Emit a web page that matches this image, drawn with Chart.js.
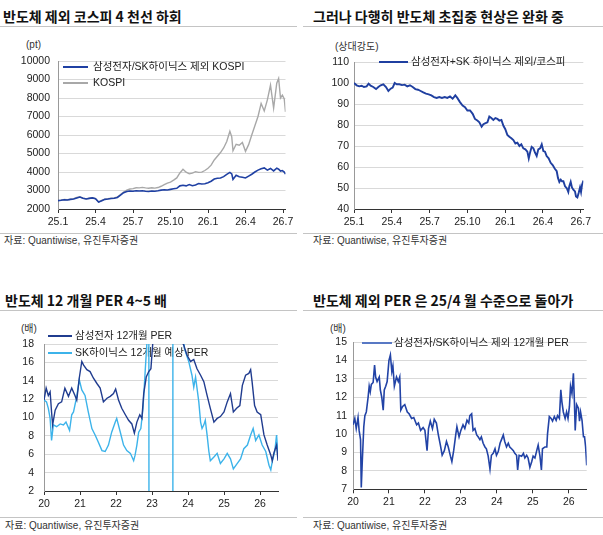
<!DOCTYPE html>
<html>
<head>
<meta charset="utf-8">
<script src="https://cdn.jsdelivr.net/npm/chart.js@4.4.1/dist/chart.umd.min.js"></script>
<style>
body { margin: 0; width: 603px; height: 535px; position: relative; background: #fff; overflow: hidden;
  font-family: "Liberation Sans", "Noto Sans CJK KR", sans-serif; color: #222; }
.title { position: absolute; font-family: "Noto Sans CJK KR", sans-serif; font-weight: bold; font-size: 14px;
  line-height: 20px; color: #111; white-space: nowrap; }
.note { position: absolute; font-size: 10px; line-height: 14px; color: #333; white-space: nowrap; }
.rule { position: absolute; height: 1px; background: #c4c4c4; }
canvas { position: absolute; }
</style>
</head>
<body>

<div class="title" style="left:3px;top:6px">반도체 제외 코스피 4 천선 하회</div>
<div class="title" style="left:313px;top:6px">그러나 다행히 반도체 초집중 현상은 완화 중</div>
<div class="title" style="left:5px;top:290px">반도체 12 개월 PER 4~5 배</div>
<div class="title" style="left:313px;top:290px">반도체 제외 PER 은 25/4 월 수준으로 돌아가</div>

<div class="rule" style="left:0;top:26px;width:297px"></div>
<div class="rule" style="left:303px;top:26px;width:300px"></div>
<div class="rule" style="left:0;top:233px;width:297px"></div>
<div class="rule" style="left:303px;top:233px;width:300px"></div>
<div class="rule" style="left:0;top:310px;width:297px"></div>
<div class="rule" style="left:303px;top:310px;width:300px"></div>
<div class="rule" style="left:0;top:517px;width:297px"></div>
<div class="rule" style="left:303px;top:517px;width:300px"></div>

<div class="note" style="left:26px;top:38px">(pt)</div>
<div class="note" style="left:335px;top:40px">(상대강도)</div>
<div class="note" style="left:21px;top:322px">(배)</div>
<div class="note" style="left:330px;top:322px">(배)</div>

<div class="note" style="left:4px;top:234px">자료: Quantiwise, 유진투자증권</div>
<div class="note" style="left:313px;top:234px">자료: Quantiwise, 유진투자증권</div>
<div class="note" style="left:5px;top:519px">자료: Quantiwise, 유진투자증권</div>
<div class="note" style="left:313px;top:519px">자료: Quantiwise, 유진투자증권</div>

<canvas id="kospiChart" width="300" height="200" style="left:0;top:30px"></canvas>
<canvas id="ratioChart" width="303" height="200" style="left:300px;top:30px"></canvas>
<canvas id="semiPerChart" width="300" height="200" style="left:0;top:315px"></canvas>
<canvas id="exPerChart" width="303" height="200" style="left:300px;top:315px"></canvas>

<script>
// tick labels
const monthTicks = ['25.1', '25.4', '25.7', '25.10', '26.1', '26.4', '26.7'];
const yearTicks = ['20', '21', '22', '23', '24', '25', '26'];

// KOSPI vs KOSPI ex Samsung/SK Hynix (months since 25.1)
const kospiMonths = [0, 0.25, 0.5, 0.75, 1, 1.25, 1.5, 1.75, 2, 2.25, 2.5, 2.75, 3, 3.25, 3.5, 3.75, 4, 4.25, 4.5, 4.75,
  5, 5.25, 5.5, 5.75, 6, 6.25, 6.5, 6.75, 7, 7.25, 7.5, 7.75, 8, 8.25, 8.5, 8.75, 9, 9.25, 9.5, 9.75,
  10, 10.25, 10.5, 10.75, 11, 11.25, 11.5, 11.75, 12, 12.25, 12.5, 12.75, 13, 13.25, 13.5, 13.75, 13.9,
  14, 14.25, 14.5, 14.75, 15, 15.25, 15.5, 15.75, 16, 16.25, 16.5, 16.75, 17, 17.25, 17.5,
  17.65, 17.8, 17.95, 18.1, 18.2];
const kospiExSemi = [2450, 2470, 2500, 2485, 2520, 2545, 2600, 2650, 2580, 2540, 2575, 2600, 2555, 2380, 2450, 2520, 2540, 2565, 2580, 2625,
  2750, 2880, 2950, 2975, 2960, 2990, 2970, 2985, 2960, 2950, 2975, 2960, 2985, 3020, 3040, 3030, 3060, 3090, 3120, 3250,
  3280, 3250, 3320, 3260, 3300, 3380, 3350, 3365, 3420, 3500, 3620, 3660, 3680, 3750, 3870, 3980, 3900,
  3600, 3820, 3740, 3720, 3680, 3780, 3880, 4000, 4100, 4180, 4220, 4100, 4190, 4060, 4210,
  4150, 4050, 4080, 4000, 3880];
const kospiAll = [2450, 2480, 2510, 2500, 2530, 2560, 2620, 2660, 2590, 2550, 2580, 2610, 2560, 2370, 2460, 2530, 2560, 2580, 2600, 2650,
  2780, 2920, 3020, 3080, 3100, 3150, 3140, 3170, 3140, 3120, 3150, 3130, 3160, 3230, 3320, 3400, 3450, 3560, 3680, 3950,
  4150, 3990, 3900, 3940, 4020, 3980, 3990, 4080, 4200, 4370, 4650, 4850, 5050, 5300, 5650, 6200, 5900,
  5150, 5500, 5450, 5600, 5120, 5480, 6000, 6500, 7000, 7700, 7300, 7900, 8700, 7450, 8800,
  9060, 8000, 8150, 7950, 7250];

// relative strength: ex Samsung+SK / KOSPI
const ratioMonths = [0, 0.21, 0.42, 0.61, 0.79, 1.0, 1.16, 1.32, 1.53, 1.75, 1.93, 2.12, 2.33, 2.54, 2.73, 2.91,
  3.07, 3.23, 3.39, 3.60, 3.81, 4.02, 4.23, 4.44, 4.66, 4.87, 5.08, 5.29, 5.50, 5.71, 5.93,
  6.14, 6.35, 6.56, 6.77, 6.98, 7.20, 7.41, 7.62, 7.83, 8.04, 8.20, 8.41, 8.62, 8.81, 9.0,
  9.21, 9.42, 9.60, 9.79, 9.95, 10.13, 10.27, 10.40, 10.59, 10.74, 10.90, 11.06, 11.22, 11.38, 11.54, 11.70,
  11.86, 12.01, 12.17, 12.33, 12.49, 12.65, 12.81, 12.97, 13.13, 13.28, 13.44, 13.60, 13.76, 13.87, 13.97,
  14.10, 14.24, 14.37, 14.50, 14.63, 14.77, 14.90, 15.03, 15.16, 15.29, 15.45, 15.61, 15.77, 15.93,
  16.09, 16.19, 16.30, 16.41, 16.51, 16.62, 16.75, 16.88, 17.01, 17.09, 17.20, 17.30, 17.41, 17.54,
  17.62, 17.73, 17.83, 17.94, 18.02, 18.10, 18.21];
const ratioValues = [100.0, 98.9, 98.4, 98.7, 98.1, 98.4, 99.7, 98.7, 98.1, 97.1, 98.1, 98.9, 99.4, 98.1, 96.2, 97.3,
  97.8, 100.0, 99.4, 99.4, 99.0, 99.2, 98.4, 98.9, 98.1, 97.1, 96.8, 96.2, 95.5, 94.9, 94.6,
  94.1, 93.3, 92.9, 93.3, 92.9, 93.3, 92.9, 93.6, 92.5, 94.1, 92.9, 90.9, 89.3, 88.5, 86.9,
  86.9, 85.3, 82.9, 82.1, 81.3, 79.2, 80.4, 80.8, 81.3, 84.0, 83.3, 82.4, 83.3, 82.9, 82.1, 82.4,
  79.6, 78.0, 75.3, 74.4, 73.7, 72.8, 71.2, 71.6, 70.0, 70.8, 68.9, 68.4, 67.3, 64.1, 66.8,
  69.6, 68.9, 66.8, 65.2, 68.4, 68.9, 70.8, 67.6, 67.3, 65.2, 64.1, 62.0, 60.9, 59.3,
  58.0, 54.8, 52.9, 54.0, 53.2, 53.2, 50.8, 50.0, 48.1, 50.8, 52.9, 50.3, 49.2, 48.4,
  46.0, 45.5, 47.6, 50.3, 48.1, 51.6, 53.5];

// 12M forward PER, Samsung / SK Hynix (year as 20.xx)
const samsungYears = [20.00, 20.06, 20.12, 20.17, 20.21, 20.24, 20.31, 20.40, 20.49, 20.58, 20.68, 20.77, 20.86, 20.91,
  20.98, 21.05, 21.10, 21.19, 21.28, 21.37, 21.47, 21.56, 21.65, 21.75, 21.84, 21.93, 21.99,
  22.07, 22.16, 22.26, 22.35, 22.44, 22.51, 22.58, 22.66, 22.72, 22.77, 22.84, 22.91, 22.97,
  23.01, 23.05, 23.2, 23.4, 23.6, 23.79, 23.88, 23.97,
  24.07, 24.16, 24.25, 24.35, 24.44, 24.53, 24.62, 24.72, 24.81, 24.90,
  25.00, 25.09, 25.18, 25.26, 25.35, 25.44, 25.51, 25.60, 25.69, 25.74, 25.78, 25.85, 25.92,
  26.02, 26.11, 26.20, 26.30, 26.34, 26.39, 26.46, 26.50];
const samsungPer = [11.9, 13.2, 12.4, 12.8, 10.6, 9.2, 10.8, 11.5, 11.7, 13.2, 12.3, 13.2, 12.4, 11.9,
  14.3, 16.1, 15.7, 15.2, 15.0, 14.3, 13.7, 13.2, 11.7, 12.1, 12.3, 12.6, 13.1,
  11.9, 11.0, 10.3, 9.7, 9.3, 8.3, 9.5, 10.3, 9.9, 12.6, 14.4, 15.0, 15.3,
  17.5, 19.5, 26, 34, 28, 18.5, 17.9, 16.8,
  16.1, 16.3, 15.3, 14.6, 13.9, 12.4, 11.0, 9.5, 9.9, 10.1,
  10.6, 11.7, 12.6, 10.6, 11.0, 11.3, 13.5, 14.6, 14.8, 15.2, 13.9, 11.3, 10.6,
  10.3, 8.1, 7.0, 5.9, 5.3, 6.2, 7.0, 5.3];
const hynixYears = [20.00, 20.07, 20.12, 20.17, 20.21, 20.26, 20.35, 20.45, 20.54, 20.61,
  20.71, 20.77, 20.82, 20.91, 20.98, 21.05, 21.14, 21.23, 21.33, 21.42,
  21.51, 21.61, 21.70, 21.79, 21.88, 21.98, 22.02, 22.12, 22.21, 22.30,
  22.40, 22.49, 22.53, 22.58, 22.63, 22.69, 22.75, 22.81, 22.88, 22.91,
  22.92, 23.2, 23.57, 23.58, 23.75, 23.9, 24.02, 24.11, 24.16, 24.21,
  24.25, 24.30, 24.35, 24.39, 24.44, 24.48, 24.53, 24.58, 24.62, 24.72,
  24.81, 24.90, 25.00, 25.09, 25.18, 25.26, 25.37, 25.46, 25.55, 25.65,
  25.74, 25.81, 25.88, 25.97, 26.06, 26.16, 26.25, 26.30, 26.34, 26.41,
  26.46, 26.50];
const hynixPer = [11.9, 11.7, 11.0, 9.9, 7.5, 9.2, 9.0, 9.3, 9.2, 9.5,
  8.6, 10.3, 10.6, 12.3, 14.1, 13.0, 12.4, 10.6, 8.8, 8.1,
  7.3, 6.4, 6.3, 7.0, 8.4, 9.5, 9.9, 8.4, 7.0, 6.4,
  6.1, 5.3, 5.9, 7.0, 8.4, 8.8, 11.0, 15.0, 19.5, 30,
  -20, -40, -15, 40, 25, 17.5, 16.1, 14.6, 13.3, 14.4,
  13.2, 11.7, 9.5, 8.8, 9.2, 9.7, 8.1, 6.3, 5.3, 5.7,
  6.1, 5.0, 5.5, 6.1, 5.5, 4.4, 5.0, 5.5, 6.6, 7.0,
  8.1, 8.8, 7.5, 8.1, 7.0, 6.3, 4.8, 4.3, 5.2, 6.3,
  8.1, 5.9];

// 12M PER ex Samsung/SK Hynix
const exPerYears = [20.00, 20.05, 20.09, 20.14, 20.17, 20.21, 20.23, 20.26, 20.30, 20.33,
  20.37, 20.42, 20.45, 20.48, 20.51, 20.56, 20.60, 20.63, 20.67, 20.73,
  20.76, 20.80, 20.84, 20.87, 20.91, 20.95, 21.00, 21.04, 21.08, 21.11,
  21.15, 21.21, 21.26, 21.30, 21.33, 21.38, 21.44, 21.51, 21.56, 21.63,
  21.69, 21.77, 21.82, 21.88, 21.95, 22.00, 22.06, 22.10, 22.15, 22.21,
  22.26, 22.32, 22.37, 22.43, 22.48, 22.54, 22.60, 22.65, 22.71, 22.75,
  22.80, 22.86, 22.89, 22.95, 23.00, 23.06, 23.11, 23.17, 23.22, 23.25,
  23.30, 23.34, 23.39, 23.44, 23.48, 23.53, 23.57, 23.62, 23.67, 23.71,
  23.76, 23.81, 23.85, 23.90, 23.95, 23.99, 24.04, 24.09, 24.13, 24.18,
  24.22, 24.27, 24.32, 24.36, 24.41, 24.46, 24.50, 24.55, 24.58, 24.62,
  24.69, 24.74, 24.78, 24.83, 24.87, 24.92, 24.97, 25.01, 25.06, 25.11,
  25.15, 25.20, 25.24, 25.27, 25.34, 25.39, 25.41, 25.46, 25.51, 25.55,
  25.60, 25.65, 25.69, 25.74, 25.78, 25.81, 25.85, 25.90, 25.94, 25.98,
  26.02, 26.05, 26.09, 26.13, 26.16, 26.18, 26.22, 26.27, 26.30, 26.33,
  26.37, 26.41, 26.44, 26.47, 26.50];
const exPerValues = [10.5, 10.85, 10.3, 10.9, 10.2, 9.7, 7.1, 8.6, 10.4, 11.0,
  11.2, 12.0, 12.6, 12.3, 12.7, 12.8, 13.75, 13.1, 12.85, 13.1,
  12.4, 12.0, 11.3, 12.4, 12.6, 12.85, 14.0, 14.3, 13.4, 13.7,
  12.6, 13.1, 12.85, 13.1, 11.3, 11.5, 11.6, 11.2, 11.1, 10.85,
  10.9, 10.5, 10.6, 10.2, 10.35, 10.2, 9.1, 10.3, 10.7, 10.3,
  10.8, 10.6, 10.0, 9.4, 8.85, 9.1, 9.6, 9.3, 8.8, 8.5,
  9.1, 10.0, 10.4, 9.85, 10.2, 10.5, 10.3, 10.75, 10.6, 11.0,
  11.1, 10.2, 10.3, 9.95, 9.85, 9.7, 9.85, 9.5, 9.3, 9.2,
  8.8, 8.1, 8.85, 8.95, 9.2, 8.85, 9.05, 9.5, 9.7, 9.95,
  9.6, 9.3, 9.5, 9.3, 9.2, 9.1, 8.95, 8.85, 8.05, 8.85,
  8.8, 8.95, 8.7, 8.85, 8.7, 8.2, 8.5, 8.8, 8.7, 9.1,
  9.4, 8.8, 8.05, 9.2, 9.3, 9.3, 10.0, 10.95, 10.85, 10.7,
  10.95, 10.75, 11.0, 10.85, 12.4, 11.75, 11.2, 10.85, 11.2, 10.85,
  11.5, 12.6, 12.2, 13.3, 11.65, 10.2, 11.6, 11.4, 10.7, 11.2,
  10.75, 9.85, 9.85, 9.3, 8.3];

Chart.defaults.font.family = '"Liberation Sans", "Noto Sans CJK KR", sans-serif';
Chart.defaults.color = '#333';

// legend drawn inside the plot, under the lines
const inlineLegend = {
  id: 'inlineLegend',
  beforeDatasetsDraw(chart, args, opts) {
    const ctx = chart.ctx;
    ctx.save();
    ctx.font = '10.5px "Liberation Sans", "Noto Sans CJK KR", sans-serif';
    ctx.textBaseline = 'middle';
    chart.data.datasets.forEach((ds, i) => {
      const y = opts.y + i * (opts.rowH || 16);
      ctx.strokeStyle = opts.color || ds.borderColor;
      ctx.lineWidth = 2;
      ctx.beginPath();
      ctx.moveTo(opts.x, y);
      ctx.lineTo(opts.x + opts.len, y);
      ctx.stroke();
      ctx.fillStyle = '#222';
      ctx.fillText(ds.label, opts.x + opts.len + opts.gap, y);
    });
    ctx.restore();
  }
};

function series(label, xs, ys, color, width) {
  return {
    label: label,
    data: xs.map((x, i) => ({ x: x, y: ys[i] })),
    borderColor: color,
    borderWidth: width,
    pointRadius: 0,
    tension: 0,
    fill: false
  };
}

function xScale(min, max, step, names, height) {
  return {
    type: 'linear',
    min: min,
    max: max,
    afterBuildTicks: s => { s.ticks = names.map((n, i) => ({ value: min + i * step })); },
    afterFit: s => { s.height = height; },
    ticks: {
      autoSkip: false,
      maxRotation: 0,
      padding: 3,
      color: '#222',
      font: { size: 10.5 },
      callback: v => names[Math.round((v - min) / step)]
    },
    grid: { drawOnChartArea: false, drawTicks: true, tickLength: 4, color: '#333' },
    border: { color: '#333' }
  };
}

function yScale(min, max, step, width, pad) {
  return {
    min: min,
    max: max,
    afterFit: s => { s.width = width; },
    ticks: { stepSize: step, padding: pad, color: '#222', font: { size: 10.5 }, callback: v => String(v) },
    grid: { color: '#d9d9d9', drawTicks: false },
    border: { color: '#999' }
  };
}

function makeChart(id, datasets, scales, padding, legendPos) {
  return new Chart(document.getElementById(id), {
    type: 'line',
    data: { datasets: datasets },
    options: {
      responsive: false,
      animation: false,
      devicePixelRatio: 1,
      layout: { padding: padding },
      scales: scales,
      plugins: {
        legend: { display: false },
        tooltip: { enabled: false },
        inlineLegend: legendPos
      }
    },
    plugins: [inlineLegend]
  });
}

// KOSPI chart
makeChart('kospiChart', [
  series('삼성전자/SK하이닉스 제외 KOSPI', kospiMonths, kospiExSemi, '#1f40a3', 1.6),
  series('KOSPI', kospiMonths, kospiAll, '#a8a8a8', 1.4)
], {
  x: xScale(0, 18.2, 3, monthTicks, 21),
  y: yScale(2000, 10000, 1000, 58, 8)
}, { top: 31, right: 14.5, left: 0, bottom: 0 }, { x: 63, y: 37, len: 25, gap: 5, rowH: 16 });

// relative strength chart
makeChart('ratioChart', [
  series('삼성전자+SK 하이닉스 제외/코스피', ratioMonths, ratioValues, '#1f3fa0', 1.9)
], {
  x: xScale(0, 18.2, 3, monthTicks, 21),
  y: yScale(40, 110, 10, 54, 5)
}, { top: 32, right: 19.7, left: 0, bottom: 0 }, { x: 79, y: 32, len: 29, gap: 3 });

// semiconductor PER chart
makeChart('semiPerChart', [
  series('삼성전자 12개월 PER', samsungYears, samsungPer, '#203c8f', 1.4),
  series('SK하이닉스 12개월 예상 PER', hynixYears, hynixPer, '#3cb3ea', 1.4)
], {
  x: xScale(20, 26.5, 1, yearTicks, 24),
  y: yScale(2, 18, 2, 44, 10)
}, { top: 29, right: 22, left: 0, bottom: 0 }, { x: 48, y: 21, len: 24, gap: 3, rowH: 17 });

// ex-semis PER chart
makeChart('exPerChart', [
  series('삼성전자/SK하이닉스 제외 12개월 PER', exPerYears, exPerValues, '#2243a6', 1.6)
], {
  x: xScale(20, 26.5, 1, yearTicks, 25.7),
  y: yScale(7, 15, 1, 53, 6)
}, { top: 27, right: 16.3, left: 0, bottom: 0 }, { x: 62, y: 28, len: 30, gap: 2, color: '#5878c4' });
</script>
</body>
</html>
